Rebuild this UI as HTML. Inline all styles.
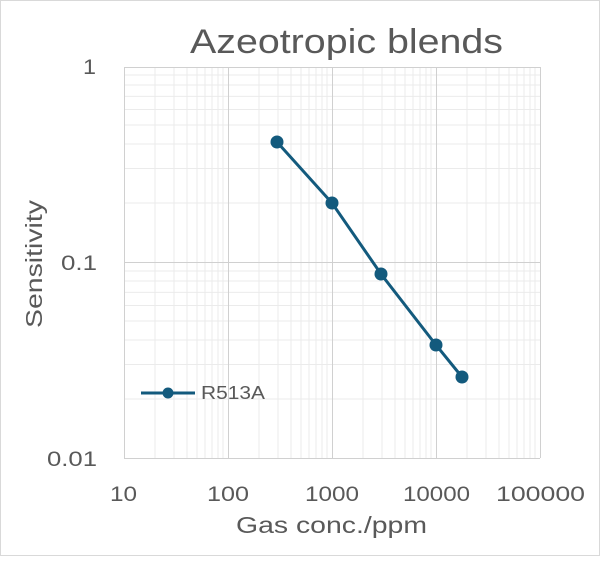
<!DOCTYPE html>
<html><head><meta charset="utf-8"><style>
body{margin:0;background:#fff}
svg text{font-family:"Liberation Sans",sans-serif;fill:#595959}
</style></head><body>
<svg width="600" height="556" viewBox="0 0 600 556" xmlns="http://www.w3.org/2000/svg">
<rect x="0.5" y="0.5" width="599" height="555" fill="#fff" stroke="#d9d9d9"/>
<g stroke="#ebebeb" stroke-width="1">
<path d="M155 67V458M174 67V458M187 67V458M197 67V458M205 67V458M212 67V458M218 67V458M223 67V458
M259 67V458M278 67V458M291 67V458M301 67V458M309 67V458M316 67V458M322 67V458M327 67V458
M363 67V458M382 67V458M395 67V458M405 67V458M413 67V458M420 67V458M426 67V458M431 67V458
M467 67V458M486 67V458M499 67V458M509 67V458M517 67V458M524 67V458M530 67V458M535 67V458"/>
<path d="M124 203H540M124 168.5H540M124 144H540M124 125H540M124 109.5H540M124 96.4H540M124 85H540M124 75H540
M124 399H540M124 364.5H540M124 340H540M124 321H540M124 305.5H540M124 292.4H540M124 281H540M124 271H540"/>
</g>
<g stroke="#d0d0d0" stroke-width="1">
<path d="M124.5 67V458M228.5 67V458M332.5 67V458M436.5 67V458M540.5 67V458"/>
<path d="M124 67.5H540M124 262.5H540M124 458.5H540"/>
</g>
<text x="190" y="53" font-size="34" textLength="313" lengthAdjust="spacingAndGlyphs">Azeotropic blends</text>
<g font-size="21">
<text x="83" y="74" textLength="13" lengthAdjust="spacingAndGlyphs">1</text>
<text x="61" y="270" textLength="36" lengthAdjust="spacingAndGlyphs">0.1</text>
<text x="47" y="466" textLength="50" lengthAdjust="spacingAndGlyphs">0.01</text>
<text x="110" y="501" textLength="27" lengthAdjust="spacingAndGlyphs">10</text>
<text x="207" y="501" textLength="42" lengthAdjust="spacingAndGlyphs">100</text>
<text x="305" y="501" textLength="54" lengthAdjust="spacingAndGlyphs">1000</text>
<text x="403" y="501" textLength="67" lengthAdjust="spacingAndGlyphs">10000</text>
<text x="496" y="501" textLength="89" lengthAdjust="spacingAndGlyphs">100000</text>
</g>
<text x="236" y="533" font-size="23" textLength="191" lengthAdjust="spacingAndGlyphs">Gas conc./ppm</text>
<text transform="translate(42 328) rotate(-90)" font-size="23" textLength="128" lengthAdjust="spacingAndGlyphs">Sensitivity</text>
<polyline points="277,142 332,203 381,274 436,345 462,377" fill="none" stroke="#135a7d" stroke-width="3"/>
<g fill="#135a7d">
<circle cx="277" cy="142" r="6.5"/><circle cx="332" cy="203" r="6.5"/><circle cx="381" cy="274" r="6.5"/><circle cx="436" cy="345" r="6.5"/><circle cx="462" cy="377" r="6.5"/>
<circle cx="168" cy="393" r="5.5"/>
</g>
<line x1="141" y1="393" x2="195" y2="393" stroke="#135a7d" stroke-width="3"/>
<text x="201" y="399" font-size="18" textLength="64" lengthAdjust="spacingAndGlyphs">R513A</text>
</svg>
</body></html>
